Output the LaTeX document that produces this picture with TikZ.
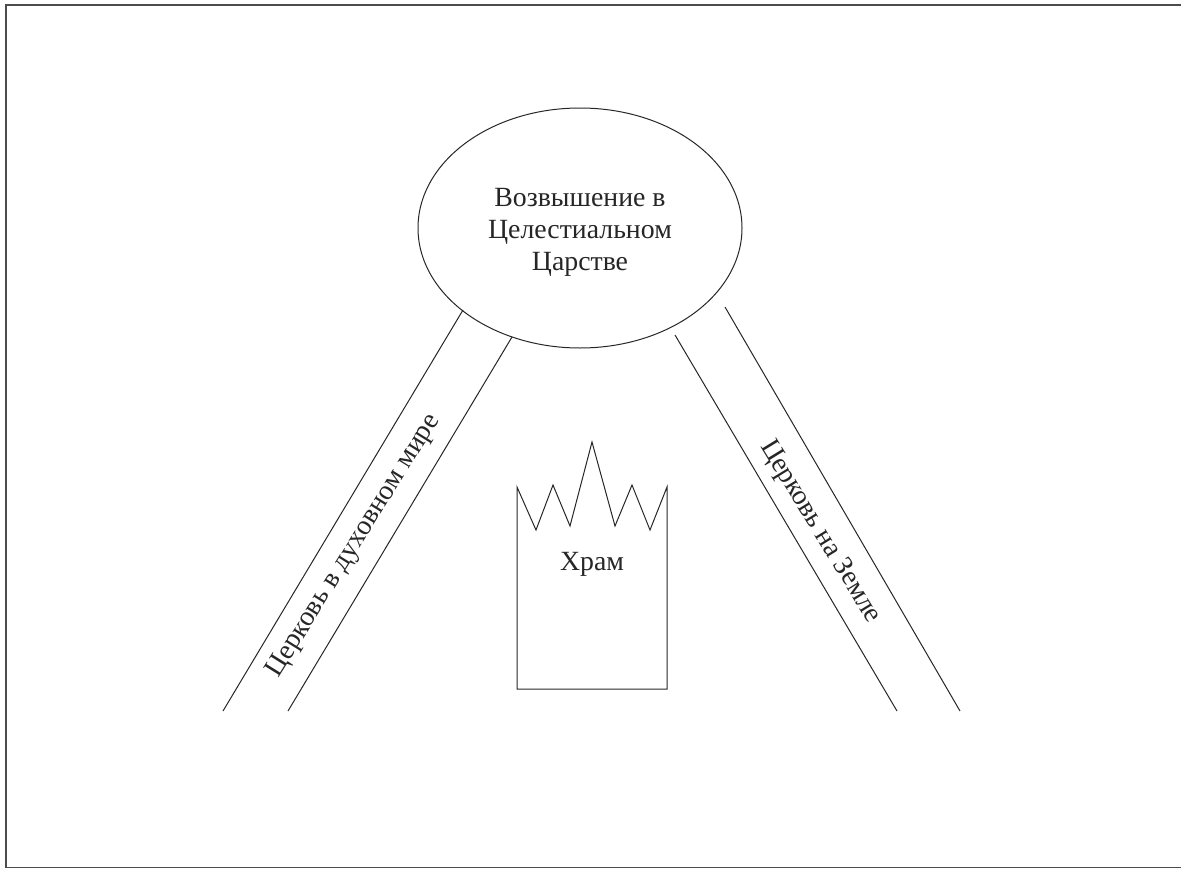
\documentclass[tikz,border=0pt]{standalone}
\usepackage{fontspec}
\setmainfont{Liberation Serif}
\usetikzlibrary{shapes.geometric}
\begin{document}
\begin{tikzpicture}[x=1pt,y=-1pt,
  ln/.style={draw=black!85,line width=1pt},
  lbl/.style={font=\fontsize{27.8}{32}\selectfont,text=black!85,inner sep=0pt},
  framel/.style={draw=black!70,line width=1.8pt}]
\useasboundingbox (0,0) rectangle (1181,870);
% frame
\draw[framel] (1181,5) -- (6,5) -- (6,867.5) -- (1181,867.5);
% ellipse
\node[ellipse,ln,minimum width=324pt,minimum height=240pt,inner sep=0pt] (top) at (580,228) {};
\node[lbl,align=center] (toptxt) at (580,232) {Возвышение в\\Целестиальном\\Царстве};
% left band
\coordinate (l1a) at (463,310); \coordinate (l1b) at (223,711);
\coordinate (l2a) at (512,337); \coordinate (l2b) at (288,711);
\draw[ln] (l1a) -- (l1b);
\draw[ln] (l2a) -- (l2b);
\node[lbl,rotate=58] (ltxt) at (354,546) {Церковь в духовном мире};
% right band
\coordinate (r1a) at (675,335); \coordinate (r1b) at (897,711);
\coordinate (r2a) at (725,307); \coordinate (r2b) at (960,711);
\draw[ln] (r1a) -- (r1b);
\draw[ln] (r2a) -- (r2b);
\node[lbl,rotate=-58.5] (rtxt) at (820,532) {Церковь на Земле};
% temple
\draw[ln,line join=miter] (517,487) -- (536,530) -- (553,485) -- (570,526) -- (592,442) -- (615,526) -- (632,485) -- (650,530) -- (667,487) -- (667,689) -- (517,689) -- cycle;
\node[lbl] (hram) at (592,564) {Храм};
\end{tikzpicture}
\end{document}
